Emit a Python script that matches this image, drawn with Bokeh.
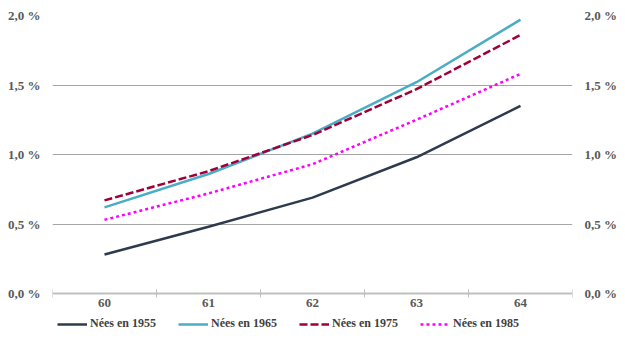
from bokeh.plotting import figure
from bokeh.models import (Range1d, FixedTicker, LinearAxis, Legend, LegendItem)
from bokeh.embed import file_html
from bokeh.resources import INLINE

ages = [60, 61, 62, 63, 64]
nees_1955 = [0.28, 0.48, 0.69, 0.98, 1.35]
nees_1965 = [0.62, 0.86, 1.15, 1.52, 1.97]
nees_1975 = [0.67, 0.88, 1.14, 1.47, 1.86]
nees_1985 = [0.53, 0.72, 0.93, 1.25, 1.58]
series_names = ["Nées en 1955", "Nées en 1965", "Nées en 1975", "Nées en 1985"]
y_ticks = [0.0, 0.5, 1.0, 1.5, 2.0]
y_labels = ["0,0 %", "0,5 %", "1,0 %", "1,5 %", "2,0 %"]

FONT = "Liberation Serif"
LABEL_COLOR = "#595959"

# layout: value axis 0..2 spans 278 px; frame extended below 0 to host the legend
PX_PER_UNIT = 139.0
FRAME_H = 316
y_min = y_ticks[-1] - FRAME_H / PX_PER_UNIT

p = figure(frame_width=520, frame_height=FRAME_H, output_backend="svg", toolbar_location=None,
           x_range=Range1d(ages[0] - 0.5, ages[-1] + 0.5),
           y_range=Range1d(y_min, y_ticks[-1]),
           min_border_top=15, min_border_left=52, min_border_right=53,
           min_border_bottom=0, x_axis_location=None, y_axis_location=None)
p.outline_line_color = None
p.background_fill_color = "white"
p.border_fill_color = "white"

# x axis at value 0: labels at category centres, ticks at boundaries
xt = FixedTicker(ticks=ages, minor_ticks=[a - 0.5 for a in ages] + [ages[-1] + 0.5])
xaxis = LinearAxis(ticker=xt, fixed_location=0)
xaxis.major_label_overrides = {a: str(a) for a in ages}
xaxis.major_tick_line_color = None
xaxis.major_tick_out = 4
xaxis.major_tick_in = 0
xaxis.minor_tick_in = 4
xaxis.minor_tick_out = 4
xaxis.minor_tick_line_color = "#BFBFBF"
xaxis.minor_tick_line_width = 1
xaxis.axis_line_color = "#BFBFBF"
xaxis.axis_line_width = 2
xaxis.major_label_standoff = 1
xaxis.major_label_text_font = FONT
xaxis.major_label_text_font_style = "bold"
xaxis.major_label_text_font_size = "13px"
xaxis.major_label_text_color = LABEL_COLOR
p.add_layout(xaxis, "below")

yt = FixedTicker(ticks=y_ticks, minor_ticks=[])
for side in ("left", "right"):
    ya = LinearAxis(ticker=yt)
    ya.major_label_overrides = {t: l for t, l in zip(y_ticks, y_labels)}
    ya.axis_line_color = None
    ya.major_tick_line_color = None
    ya.major_tick_out = 0
    ya.major_tick_in = 0
    ya.minor_tick_line_color = None
    ya.major_label_standoff = 12
    ya.major_label_text_font = FONT
    ya.major_label_text_font_style = "bold"
    ya.major_label_text_font_size = "13px"
    ya.major_label_text_color = LABEL_COLOR
    p.add_layout(ya, side)

p.xgrid.visible = False
p.ygrid.ticker = FixedTicker(ticks=y_ticks[1:])
p.ygrid.grid_line_color = "#A6A6A6"
p.ygrid.grid_line_width = 1

r1 = p.line(ages, nees_1955, line_color="#2E3B4E", line_width=2.5)
r2 = p.line(ages, nees_1965, line_color="#4BACC6", line_width=2.5)
r3 = p.line(ages, nees_1975, line_color="#A0003A", line_width=2.5, line_dash="8 3")
r4 = p.line(ages, nees_1985, line_color="#FF00FF", line_width=2.5, line_dash="3 3")

legend = Legend(items=[LegendItem(label=n, renderers=[r]) for n, r in
                       zip(series_names, [r1, r2, r3, r4])],
                orientation="horizontal", location=(5, 0))
legend.label_text_font = FONT
legend.label_text_font_style = "bold"
legend.label_text_font_size = "12px"
legend.label_text_color = "#404040"
legend.glyph_width = 30
legend.glyph_height = 14
legend.label_height = 14
legend.label_standoff = 3
legend.spacing = 22
legend.padding = 0
legend.margin = 0
legend.border_line_color = None
legend.background_fill_alpha = 0
p.add_layout(legend)

open("out.html", "w").write(file_html(p, INLINE))
